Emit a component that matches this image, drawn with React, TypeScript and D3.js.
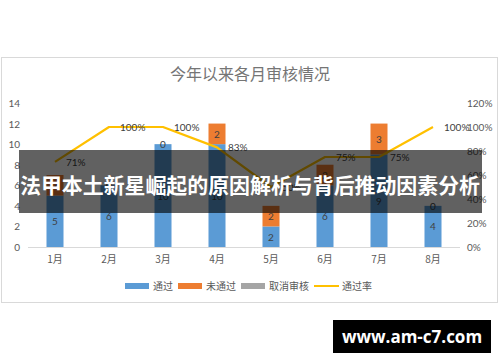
import React from 'react';
import * as d3 from 'd3';

const months = ['1月', '2月', '3月', '4月', '5月', '6月', '7月', '8月'];
const passed = [5, 6, 10, 10, 2, 6, 9, 4];
const failed = [2, 0, 0, 2, 2, 2, 3, 0];
const cancelled = [0, 0, 0, 0, 0, 0, 0, 0];
const passRate = [0.71, 1, 1, 0.83, 0.5, 0.75, 0.75, 1];
const leftTicks = [0, 2, 4, 6, 8, 10, 12, 14];
const rightTicks = [0, 0.2, 0.4, 0.6, 0.8, 1, 1.2];

const W = 500;
const H = 362;
const margin = { top: 103, left: 28, right: 40, bottom: 115 };
const numFont = 'Lato, "Noto Sans CJK SC", sans-serif';
const cjkFont = '"Noto Sans CJK SC", sans-serif';

const legendItems = [
  { label: '通过', color: '#5b9bd5', x: 125, type: 'rect' },
  { label: '未通过', color: '#ed7d31', x: 178, type: 'rect' },
  { label: '取消审核', color: '#a5a5a5', x: 241, type: 'rect' },
  { label: '通过率', color: '#ffc000', x: 314, type: 'line' }
];

export default function App() {
  const x = d3.scaleBand().domain(months).range([margin.left, W - margin.right]).paddingInner(0.685).paddingOuter(0.3425);
  const y = d3.scaleLinear().domain([0, 14]).range([H - margin.bottom, margin.top]);
  const yr = d3.scaleLinear().domain([0, 1.2]).range([H - margin.bottom, margin.top]);

  const stack = d3.stack<any>().keys(['passed', 'failed', 'cancelled'])(
    months.map((m, i) => ({ m, passed: passed[i], failed: failed[i], cancelled: cancelled[i] }))
  );
  const colors = ['#5b9bd5', '#ed7d31', '#a5a5a5'];

  const line = d3.line<number>()
    .x((d, i) => x(months[i])! + x.bandwidth() / 2)
    .y(d => yr(d));

  return (
    <div style={{ position: 'absolute', left: 0, top: 0 }}>
      <style>{'body{margin:0}'}</style>
      <svg width={W} height={H} style={{ display: 'block', background: '#fff' }}>
        <rect x={1.5} y={57.5} width={496} height={245} fill="#fff" stroke="#d9d9d9" />
        <text x={250} y={80} textAnchor="middle" fontSize={16} fill="#757575" fontFamily={cjkFont}>今年以来各月审核情况</text>

        {leftTicks.map(t => (
          <text key={'l' + t} x={20} y={y(t) + 4} textAnchor="end" fontSize={10} fill="#595959" fontFamily={numFont}>{t}</text>
        ))}
        {rightTicks.map(t => (
          <text key={'r' + t} x={467} y={yr(t) + 4} fontSize={10} fill="#595959" fontFamily={numFont}>{Math.round(t * 100) + '%'}</text>
        ))}

        <line x1={margin.left} x2={W - margin.right} y1={y(0) + 0.5} y2={y(0) + 0.5} stroke="#d9d9d9" />

        {stack.map((s, k) => (
          <g key={k}>
            {s.map((d, i) => (
              <rect key={i} x={x(months[i])} width={x.bandwidth()} y={y(d[1])} height={y(d[0]) - y(d[1])} fill={colors[k]} />
            ))}
          </g>
        ))}
        {stack.slice(0, 2).map((s, k) => (
          <g key={'lab' + k}>
            {s.map((d, i) => (
              <text key={i} x={x(months[i])! + x.bandwidth() / 2} y={y((d[0] + d[1]) / 2) + 4} textAnchor="middle" fontSize={10} fill="#404040" fontFamily={numFont}>
                {d[1] - d[0]}
              </text>
            ))}
          </g>
        ))}

        <path d={line(passRate) || ''} fill="none" stroke="#ffc000" strokeWidth={2.2} strokeLinejoin="round" />
        {passRate.map((r, i) => (
          <text key={'pr' + i} x={x(months[i])! + x.bandwidth() / 2 + 11} y={yr(r) + 4} fontSize={10} fill="#404040" fontFamily={numFont}>
            {Math.round(r * 100) + '%'}
          </text>
        ))}

        {months.map(m => (
          <text key={m} x={x(m)! + x.bandwidth() / 2} y={263} textAnchor="middle" fontSize={10} fill="#595959" fontFamily={cjkFont}>{m}</text>
        ))}

        {legendItems.map(it => (
          <g key={it.label}>
            {it.type === 'rect'
              ? <rect x={it.x} y={283} width={24} height={6} fill={it.color} />
              : <line x1={it.x} x2={it.x + 25} y1={286} y2={286} stroke={it.color} strokeWidth={2} />}
            <text x={it.x + 28} y={290} fontSize={10} fill="#595959" fontFamily={cjkFont}>{it.label}</text>
          </g>
        ))}

        <rect x={19} y={150} width={463} height={63} fill="#000" fillOpacity={0.62} />
        <text x={250} y={193} textAnchor="middle" fontSize={21} fontWeight="bold" fill="#fff" fontFamily={cjkFont} textLength={460} lengthAdjust="spacingAndGlyphs">
          法甲本土新星崛起的原因解析与背后推动因素分析
        </text>

        <rect x={333} y={320} width={158} height={33} fill="#000" />
        <text x={412} y={343} textAnchor="middle" fontSize={17} fontWeight="bold" fill="#fff" fontFamily='"Open Sans", sans-serif'>www.am-c7.com</text>
      </svg>
    </div>
  );
}
